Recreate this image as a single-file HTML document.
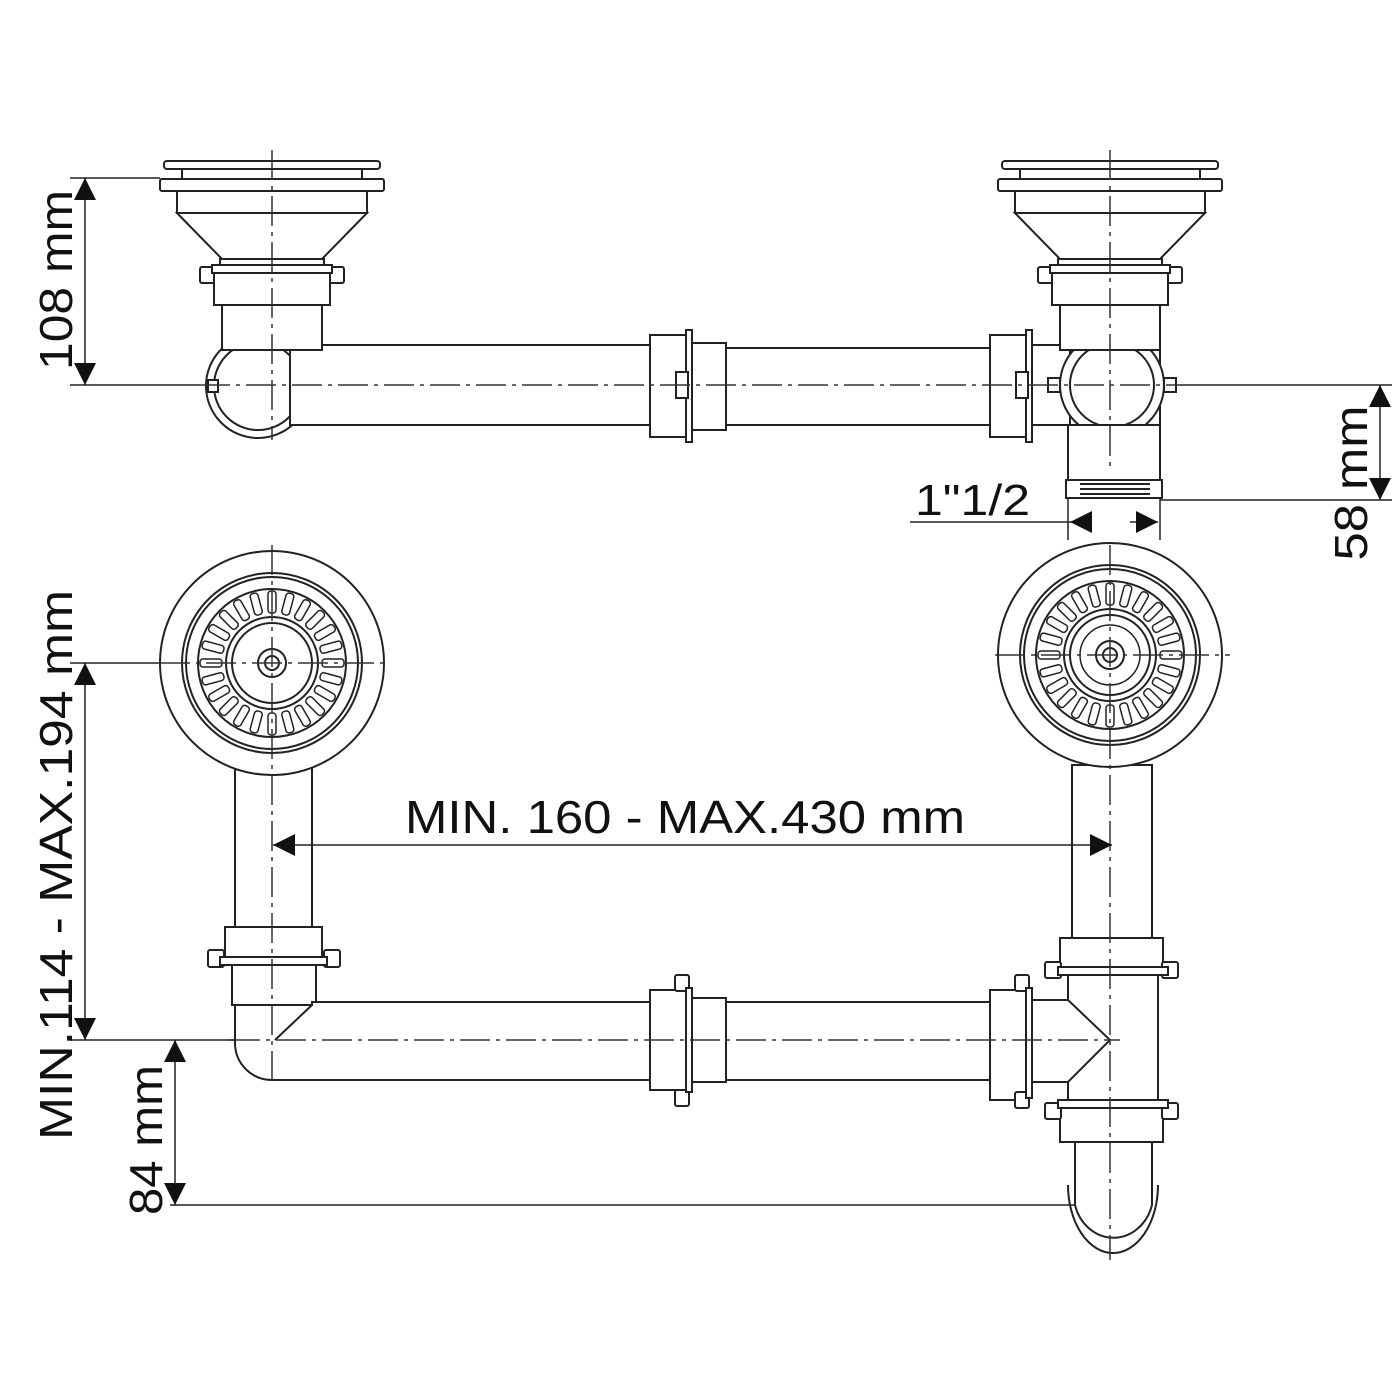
<!DOCTYPE html>
<html><head><meta charset="utf-8"><style>
html,body{margin:0;padding:0;background:#fff;}
svg{display:block}
text{font-family:"Liberation Sans","DejaVu Sans",sans-serif;fill:#111}
</style></head><body>
<svg width="1400" height="1400" viewBox="0 0 1400 1400" xmlns="http://www.w3.org/2000/svg">
<defs>
<marker id="a" viewBox="0 0 10 10" refX="10" refY="5" markerWidth="22" markerHeight="22" markerUnits="userSpaceOnUse" orient="auto-start-reverse"><path d="M0,0 L10,5 L0,10 z" fill="#111"/></marker>
<g id="strainerSide" fill="#fff" stroke="#222" stroke-width="2">
  <rect x="-108" y="-4" width="216" height="8" rx="3"/>
  <rect x="-90" y="4" width="180" height="10"/>
  <rect x="-112" y="14" width="224" height="12" rx="2"/>
  <rect x="-95" y="26" width="190" height="22"/>
  <path d="M-95,48 L-50,94 L50,94 L95,48 Z"/>
  <rect x="-52" y="94" width="104" height="8"/>
  <rect x="-72" y="102" width="16" height="16" rx="2"/>
  <rect x="56" y="102" width="16" height="16" rx="2"/>
  <rect x="-60" y="100" width="120" height="8"/>
  <rect x="-58" y="108" width="116" height="32"/>
  <rect x="-50" y="140" width="100" height="45"/>
</g>
<g id="plan" fill="#fff" stroke="#222" stroke-width="2">
  <circle r="112"/><circle r="90"/><circle r="86"/><circle r="74"/><circle r="46"/><circle r="40"/><circle r="14"/><circle r="7"/>
</g>
<rect id="s" x="-4" y="-72" width="8" height="22" rx="3" fill="#fff" stroke="#222" stroke-width="1.5"/>
<g id="slots">
<use href="#s" transform="rotate(0)"/><use href="#s" transform="rotate(15)"/><use href="#s" transform="rotate(30)"/><use href="#s" transform="rotate(45)"/>
<use href="#s" transform="rotate(60)"/><use href="#s" transform="rotate(75)"/><use href="#s" transform="rotate(90)"/><use href="#s" transform="rotate(105)"/>
<use href="#s" transform="rotate(120)"/><use href="#s" transform="rotate(135)"/><use href="#s" transform="rotate(150)"/><use href="#s" transform="rotate(165)"/>
<use href="#s" transform="rotate(180)"/><use href="#s" transform="rotate(195)"/><use href="#s" transform="rotate(210)"/><use href="#s" transform="rotate(225)"/>
<use href="#s" transform="rotate(240)"/><use href="#s" transform="rotate(255)"/><use href="#s" transform="rotate(270)"/><use href="#s" transform="rotate(285)"/>
<use href="#s" transform="rotate(300)"/><use href="#s" transform="rotate(315)"/><use href="#s" transform="rotate(330)"/><use href="#s" transform="rotate(345)"/>
</g>
</defs>

<g stroke="#222" stroke-width="2" fill="#fff">
<circle cx="258" cy="386" r="52"/>
<circle cx="258" cy="386" r="44"/>
<rect x="208" y="380" width="10" height="12"/>
<rect x="290" y="345" width="362" height="80"/>
<rect x="725" y="348" width="267" height="77"/>
<rect x="650" y="335" width="38" height="102"/>
<rect x="686" y="330" width="6" height="112"/>
<rect x="692" y="343" width="34" height="87"/>
<rect x="676" y="372" width="12" height="26"/>
<rect x="990" y="335" width="38" height="102"/>
<rect x="1026" y="330" width="6" height="112"/>
<rect x="1016" y="372" width="12" height="26"/>
<rect x="1032" y="345" width="40" height="80"/>
<rect x="1070" y="305" width="90" height="120"/>
<circle cx="1112" cy="385" r="52"/>
<circle cx="1112" cy="385" r="42"/>
<rect x="1068" y="425" width="92" height="55"/>
<rect x="1066" y="480" width="96" height="18"/>
<rect x="1048" y="378" width="12" height="14"/>
<rect x="1164" y="378" width="12" height="14"/>
</g>
<use href="#strainerSide" x="272" y="165"/>
<use href="#strainerSide" x="1110" y="165"/>
<g stroke="#222" stroke-width="2" fill="none">
<line x1="1080" y1="484" x2="1150" y2="484"/><line x1="1080" y1="489" x2="1150" y2="489"/><line x1="1080" y1="494" x2="1150" y2="494"/>
</g>

<g stroke="#222" stroke-width="2" fill="#fff">
<rect x="235" y="765" width="77" height="162"/>
<rect x="1072" y="765" width="80" height="175"/>
<rect x="225" y="927" width="97" height="30"/>
<rect x="208" y="950" width="16" height="17" rx="2"/>
<rect x="324" y="950" width="16" height="17" rx="2"/>
<rect x="220" y="957" width="107" height="8"/>
<rect x="232" y="965" width="84" height="40"/>
<path d="M235,1005 L312,1005 L312,1002 L652,1002 L652,1080 L272,1080 A37,37 0 0 1 235,1043 Z"/>
<path d="M275,1040 L312,1005" fill="none"/>
<rect x="725" y="1002" width="267" height="78"/>
<rect x="650" y="990" width="38" height="100"/>
<rect x="675" y="975" width="14" height="16" rx="2"/>
<rect x="675" y="1090" width="14" height="16" rx="2"/>
<rect x="686" y="988" width="6" height="104"/>
<rect x="692" y="998" width="34" height="84"/>
<rect x="990" y="990" width="38" height="110"/>
<rect x="1015" y="975" width="14" height="16" rx="2"/>
<rect x="1015" y="1092" width="14" height="16" rx="2"/>
<rect x="1026" y="988" width="6" height="110"/>
<rect x="1068" y="975" width="90" height="128"/>
<path d="M1032,1000 L1068,1000 L1110,1040 L1068,1082 L1032,1082 Z"/>
<rect x="1060" y="938" width="103" height="36"/>
<rect x="1045" y="962" width="16" height="16" rx="2"/>
<rect x="1162" y="962" width="16" height="16" rx="2"/>
<rect x="1058" y="967" width="110" height="8"/>
<rect x="1060" y="1100" width="103" height="42"/>
<rect x="1045" y="1103" width="16" height="16" rx="2"/>
<rect x="1162" y="1103" width="16" height="16" rx="2"/>
<rect x="1058" y="1100" width="110" height="8"/>
<path d="M1075,1142 L1152,1142 L1152,1205 A40,45 0 0 1 1075,1205 Z"/>
<path d="M1068,1185 A45,68 0 0 0 1158,1185" fill="none"/>
</g>
<use href="#plan" x="272" y="663"/>
<use href="#plan" x="1110" y="655"/>
<use href="#slots" transform="translate(272,663)"/>
<use href="#slots" transform="translate(1110,655)"/>
<g stroke="#222" stroke-width="1.5" fill="none">
<circle cx="272" cy="663" r="46"/><circle cx="272" cy="663" r="14"/><circle cx="272" cy="663" r="7"/>
<circle cx="1110" cy="655" r="46"/><circle cx="1110" cy="655" r="30"/><circle cx="1110" cy="655" r="14"/><circle cx="1110" cy="655" r="7"/>
</g>

<g stroke="#333" stroke-width="1.5" stroke-dasharray="30,6,4,6" fill="none">
<line x1="272" y1="150" x2="272" y2="440"/>
<line x1="1110" y1="150" x2="1110" y2="470"/>
<line x1="200" y1="385" x2="1180" y2="385"/>
<line x1="1110" y1="545" x2="1110" y2="1260"/>
<line x1="272" y1="545" x2="272" y2="1080"/>
<line x1="230" y1="1040" x2="1120" y2="1040"/>
<line x1="160" y1="663" x2="390" y2="663"/>
<line x1="995" y1="655" x2="1230" y2="655"/>
</g>

<g stroke="#222" stroke-width="1.5" fill="none">
<line x1="70" y1="178" x2="160" y2="178"/>
<line x1="70" y1="385" x2="200" y2="385"/>
<line x1="85" y1="178" x2="85" y2="385" marker-start="url(#a)" marker-end="url(#a)"/>
<line x1="1180" y1="385" x2="1392" y2="385"/>
<line x1="1160" y1="500" x2="1392" y2="500"/>
<line x1="1380" y1="385" x2="1380" y2="500" marker-start="url(#a)" marker-end="url(#a)"/>
<line x1="910" y1="522" x2="1070" y2="522"/>
<line x1="1068" y1="498" x2="1068" y2="540"/>
<line x1="1160" y1="498" x2="1160" y2="540"/>
<line x1="1090" y1="522" x2="1070" y2="522" marker-end="url(#a)"/>
<line x1="1130" y1="522" x2="1158" y2="522" marker-end="url(#a)"/>
<line x1="70" y1="663" x2="160" y2="663"/>
<line x1="70" y1="1040" x2="235" y2="1040"/>
<line x1="85" y1="663" x2="85" y2="1040" marker-start="url(#a)" marker-end="url(#a)"/>
<line x1="170" y1="1205" x2="1075" y2="1205"/>
<line x1="175" y1="1040" x2="175" y2="1205" marker-start="url(#a)" marker-end="url(#a)"/>
<line x1="273" y1="845" x2="1112" y2="845" marker-start="url(#a)" marker-end="url(#a)"/>
</g>

<g font-size="46">
<text transform="translate(72,280) rotate(-90)" text-anchor="middle" textLength="180" lengthAdjust="spacingAndGlyphs">108 mm</text>
<text transform="translate(1367,483) rotate(-90)" text-anchor="middle" textLength="155" lengthAdjust="spacingAndGlyphs">58 mm</text>
<text x="915" y="515" font-size="44" textLength="115" lengthAdjust="spacingAndGlyphs">1"1/2</text>
<text transform="translate(72,865) rotate(-90)" text-anchor="middle" textLength="550" lengthAdjust="spacingAndGlyphs">MIN.114 - MAX.194 mm</text>
<text transform="translate(162,1140) rotate(-90)" text-anchor="middle" textLength="150" lengthAdjust="spacingAndGlyphs">84 mm</text>
<text x="685" y="833" text-anchor="middle" textLength="560" lengthAdjust="spacingAndGlyphs">MIN. 160 - MAX.430 mm</text>
</g>
</svg>
</body></html>
